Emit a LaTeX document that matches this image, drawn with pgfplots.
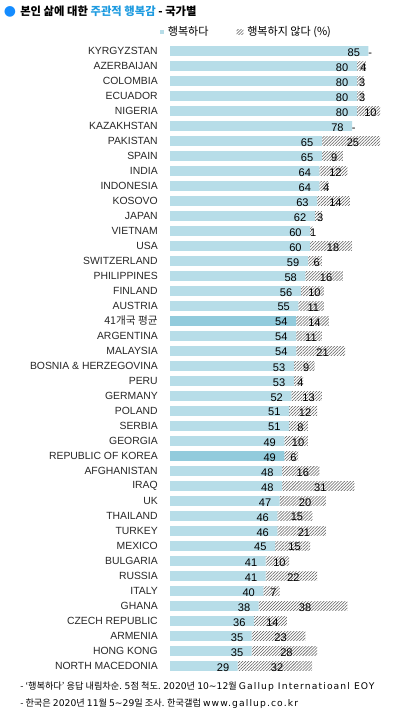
\documentclass[border=0pt]{standalone}
\usepackage{fontspec}
\setmainfont{Liberation Sans}
\newfontfamily\cjk{Noto Sans CJK KR}
\newfontfamily\dejavu{DejaVu Sans}
\newfontfamily\dvls[LetterSpace=12]{DejaVu Sans}
\usepackage{pgfplots}
\pgfplotsset{compat=1.18}
\usepackage{pgfplotstable}
\usetikzlibrary{patterns.meta}
\definecolor{barblue}{RGB}{183,221,232}
\definecolor{barhl}{RGB}{146,203,220}
\definecolor{titleblue}{RGB}{30,155,224}
\definecolor{dotblue}{RGB}{20,140,255}
\definecolor{hatchc}{RGB}{90,90,90}
\newcommand\lt[1]{{\dvls #1}}
\newcommand\dg[1]{{\dejavu #1}}

\pgfplotstableread{
idx hA lA hB lB uh lU
0 85 {85\rlap{\hspace{6.3pt}-}} 0 {} 0 {}
1 80 80 0 {} 4 4
2 80 80 0 {} 3 3
3 80 80 0 {} 3 3
4 80 80 0 {} 10 10
5 78 {78\rlap{\hspace{6.3pt}-}} 0 {} 0 {}
6 65 65 0 {} 25 25
7 65 65 0 {} 9 9
8 64 64 0 {} 12 12
9 64 64 0 {} 4 4
10 63 63 0 {} 14 14
11 62 62 0 {} 3 3
12 60 60 0 {} 1 1
13 60 60 0 {} 18 18
14 59 59 0 {} 6 6
15 58 58 0 {} 16 16
16 56 56 0 {} 10 10
17 55 55 0 {} 11 11
18 0 {} 54 54 14 14
19 54 54 0 {} 11 11
20 54 54 0 {} 21 21
21 53 53 0 {} 9 9
22 53 53 0 {} 4 4
23 52 52 0 {} 13 13
24 51 51 0 {} 12 12
25 51 51 0 {} 8 8
26 49 49 0 {} 10 10
27 0 {} 49 49 6 6
28 48 48 0 {} 16 16
29 48 48 0 {} 31 31
30 47 47 0 {} 20 20
31 46 46 0 {} 15 15
32 46 46 0 {} 21 21
33 45 45 0 {} 15 15
34 41 41 0 {} 10 10
35 41 41 0 {} 22 22
36 40 40 0 {} 7 7
37 38 38 0 {} 38 38
38 36 36 0 {} 14 14
39 35 35 0 {} 23 23
40 35 35 0 {} 28 28
41 29 29 0 {} 32 32
}\data

\begin{document}
\begin{tikzpicture}
\useasboundingbox (0,0) rectangle (303pt,535.5pt);
\begin{axis}[
  at={(127.5pt,30.375pt)}, anchor=south west,
  scale only axis, width=175.125pt, height=472.5pt,
  xmin=0, xmax=100, ymin=-0.5, ymax=41.5, y dir=reverse,
  xbar stacked, bar width=0.65,
  axis line style={draw=none},
  xtick=\empty,
  ytick={0,...,41},
  major tick length=0pt,
  yticklabels={KYRGYZSTAN,AZERBAIJAN,COLOMBIA,ECUADOR,NIGERIA,KAZAKHSTAN,PAKISTAN,SPAIN,INDIA,INDONESIA,KOSOVO,JAPAN,VIETNAM,USA,SWITZERLAND,PHILIPPINES,FINLAND,AUSTRIA,{\cjk\fontsize{8}{9}\selectfont 41개국 평균},ARGENTINA,MALAYSIA,BOSNIA \& HERZEGOVINA,PERU,GERMANY,POLAND,SERBIA,GEORGIA,REPUBLIC OF KOREA,AFGHANISTAN,IRAQ,UK,THAILAND,TURKEY,MEXICO,BULGARIA,RUSSIA,ITALY,GHANA,CZECH REPUBLIC,ARMENIA,HONG KONG,NORTH MACEDONIA},
  yticklabel style={font=\fontsize{7.8}{8}\selectfont, text=black!85, inner sep=0pt, xshift=-9pt},
  clip=false,
  point meta=explicit symbolic,
  every node near coord/.append style={font=\fontsize{8.3}{9}\selectfont, inner sep=0pt, text=black, yshift=-0.9pt},
  legend columns=2,
  legend cell align=left,
  legend style={at={(0,1)}, anchor=south west, xshift=-8pt, yshift=4pt, draw=none, fill=none, inner sep=0pt,
    font=\cjk\fontsize{8.3}{9}\selectfont,
    nodes={inner xsep=3pt, inner ysep=0pt},
    /tikz/every even column/.append style={column sep=18pt}},
]
\addplot[fill=barblue, draw=none,
  legend image code/.code={\fill[barblue] (0pt,-1.6pt) rectangle (3.2pt,1.6pt);},
  visualization depends on={\thisrow{hA} \as \hav},
  nodes near coords={\pgfplotspointmeta},
  nodes near coords style={anchor=east, xshift={0.5*\hav*1.75125pt-6.2pt}}]
  table[x=hA, y=idx, meta=lA] {\data};
\addlegendentry{행복하다}
\addplot[fill=barhl, draw=none, forget plot,
  visualization depends on={\thisrow{hB} \as \hbv},
  nodes near coords={\pgfplotspointmeta},
  nodes near coords style={anchor=east, xshift={0.5*\hbv*1.75125pt-6.2pt}}]
  table[x=hB, y=idx, meta=lB] {\data};
\addplot[draw=none, pattern={Lines[angle=45,distance=1.6pt,line width=0.4pt]}, pattern color=hatchc,
  legend image code/.code={\fill[pattern={Lines[angle=45,distance=1.6pt,line width=0.4pt]}, pattern color=hatchc] (0pt,-2pt) rectangle (5pt,2pt);},
  nodes near coords={\pgfplotspointmeta},
  nodes near coords style={anchor=center, xshift=1.5pt}]
  table[x=uh, y=idx, meta=lU] {\data};
\addlegendentry{행복하지 않다 (\%)}
\end{axis}
\node[anchor=center, inner sep=0pt, text=dotblue, font=\dejavu\fontsize{10.5}{11}\selectfont] at (7.5pt,526.9pt) {●};
\node[anchor=west, inner sep=0pt, font=\cjk\bfseries\fontsize{8.5}{10}\selectfont] at (15pt,526.9pt) {본인 삶에 대한 \textcolor{titleblue}{주관적 행복감} - 국가별};
\node[anchor=west, inner sep=0pt, font=\cjk\fontsize{6.9}{8}\selectfont] at (15pt,20.25pt) {- ‘행복하다’ 응답 내림차순. \dg{5}점 척도. \dg{2020}년 \dg{10\textasciitilde 12}월 \lt{Gallup Internatioanl EOY}};
\node[anchor=west, inner sep=0pt, font=\cjk\fontsize{6.9}{8}\selectfont] at (15pt,7.5pt) {- 한국은 \dg{2020}년 \dg{11}월 \dg{5\textasciitilde 29}일 조사. 한국갤럽 \lt{www.gallup.co.kr}};
\end{tikzpicture}
\end{document}
